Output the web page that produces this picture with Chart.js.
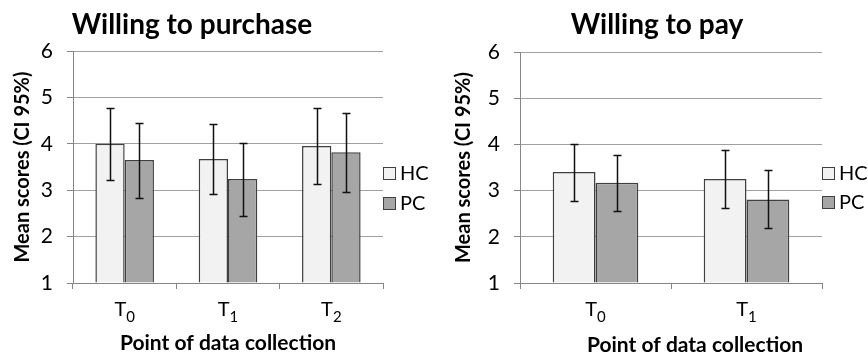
<!DOCTYPE html>
<html>
<head>
<meta charset="utf-8">
<script src="https://cdn.jsdelivr.net/npm/chart.js@4"></script>
<style>
  html, body { margin: 0; padding: 0; background: #fff; }
  .wrap { display: flex; width: 868px; height: 356px; }
  .box { position: relative; width: 434px; height: 356px; }
</style>
</head>
<body>
<div class="wrap">
  <div class="box"><canvas id="purchaseChart"></canvas></div>
  <div class="box"><canvas id="payChart"></canvas></div>
</div>
<script>
// series names
const seriesNames = ['HC', 'PC'];

// willing to purchase
const purchaseLabels = ['T0', 'T1', 'T2'];
const purchaseHC = [4.00, 3.67, 3.95];
const purchaseHCLow = [3.22, 2.91, 3.13];
const purchaseHCHigh = [4.78, 4.43, 4.77];
const purchasePC = [3.65, 3.24, 3.82];
const purchasePCLow = [2.84, 2.45, 2.97];
const purchasePCHigh = [4.45, 4.02, 4.66];

// willing to pay
const payLabels = ['T0', 'T1'];
const payHC = [3.40, 3.25];
const payHCLow = [2.78, 2.63];
const payHCHigh = [4.00, 3.88];
const payPC = [3.17, 2.81];
const payPCLow = [2.56, 2.18];
const payPCHigh = [3.78, 3.44];

const FONT = 'Lato, Carlito, Calibri, sans-serif';
const hcColor = '#f2f2f2';
const pcColor = '#a6a6a6';
const edgeColor = '#404040';

// error bars from the low/high arrays of each dataset
const errorBars = {
  id: 'errorBars',
  afterDatasetsDraw(chart) {
    const ctx = chart.ctx;
    const y = chart.scales.y;
    ctx.save();
    ctx.strokeStyle = '#111';
    ctx.lineWidth = 1.5;
    chart.data.datasets.forEach(function (ds, di) {
      const meta = chart.getDatasetMeta(di);
      meta.data.forEach(function (bar, i) {
        const top = Math.round(y.getPixelForValue(ds.errHigh[i])) + 0.5;
        const bot = Math.round(y.getPixelForValue(ds.errLow[i])) + 0.5;
        const x = Math.round(bar.x) + 0.5;
        ctx.beginPath();
        ctx.moveTo(x, top); ctx.lineTo(x, bot);
        ctx.moveTo(x - 4, top); ctx.lineTo(x + 4, top);
        ctx.moveTo(x - 4, bot); ctx.lineTo(x + 4, bot);
        ctx.stroke();
      });
    });
    ctx.restore();
  }
};

// chart title, x title, subscript tick labels and legend
const decor = {
  id: 'decor',
  afterDraw(chart, args, opts) {
    const ctx = chart.ctx;
    const area = chart.chartArea;
    const xs = chart.scales.x;
    ctx.save();
    ctx.fillStyle = '#000';
    ctx.textBaseline = 'alphabetic';
    ctx.textAlign = 'center';

    ctx.font = 'bold 28px ' + FONT;
    ctx.fillText(opts.title, opts.titleX, opts.titleY);

    ctx.font = 'bold 21px ' + FONT;
    ctx.fillText(opts.xTitle, opts.xTitleX, opts.xTitleY);

    // T with subscript
    chart.data.labels.forEach(function (lab, i) {
      const cx = xs.getPixelForValue(i);
      const main = lab.charAt(0);
      const sub = lab.slice(1);
      ctx.font = '20px ' + FONT;
      const w1 = ctx.measureText(main).width;
      ctx.font = '15px ' + FONT;
      const w2 = ctx.measureText(sub).width;
      const left = cx - (w1 + w2) / 2;
      ctx.textAlign = 'left';
      ctx.font = '20px ' + FONT;
      ctx.fillText(main, left, opts.tickY);
      ctx.font = '15px ' + FONT;
      ctx.fillText(sub, left + w1, opts.tickY + 6);
    });

    // legend
    ctx.textAlign = 'left';
    ctx.textBaseline = 'middle';
    ctx.font = '20px ' + FONT;
    chart.data.datasets.forEach(function (ds, i) {
      const bx = area.right + opts.legendDx;
      const by = opts.legendTop + i * opts.legendGap;
      ctx.fillStyle = ds.backgroundColor;
      ctx.fillRect(bx, by, 12, 12);
      ctx.strokeStyle = edgeColor;
      ctx.lineWidth = 1;
      ctx.strokeRect(bx + 0.5, by + 0.5, 12, 12);
      ctx.fillStyle = '#000';
      ctx.fillText(ds.label, bx + 17, by + 7);
    });
    ctx.restore();
  }
};

function makeChart(id, labels, hc, hcLow, hcHigh, pc, pcLow, pcHigh, cfg) {
  return new Chart(document.getElementById(id), {
    type: 'bar',
    data: {
      labels: labels,
      datasets: [
        {
          label: seriesNames[0], data: hc, errLow: hcLow, errHigh: hcHigh,
          backgroundColor: hcColor, borderColor: edgeColor, borderWidth: 1.5, base: 1
        },
        {
          label: seriesNames[1], data: pc, errLow: pcLow, errHigh: pcHigh,
          backgroundColor: pcColor, borderColor: edgeColor, borderWidth: 1.5, base: 1
        }
      ]
    },
    options: {
      responsive: false,
      animation: false,
      devicePixelRatio: 1,
      layout: { padding: { top: cfg.top, right: cfg.right, left: 0, bottom: 0 } },
      datasets: { bar: { barPercentage: 1, categoryPercentage: 0.567 } },
      scales: {
        x: {
          afterFit: function (scale) { scale.height = cfg.xHeight; },
          ticks: { display: false },
          grid: { display: true, drawOnChartArea: false, offset: true, tickLength: 6, color: '#868686' },
          border: { color: '#868686', width: 1 }
        },
        y: {
          min: 1, max: 6,
          afterFit: function (scale) { scale.width = cfg.yWidth; },
          ticks: { stepSize: 1, color: '#000', padding: 14, font: { family: FONT, size: 21 } },
          grid: { color: '#a0a0a0', tickLength: 6, tickColor: '#868686' },
          border: { color: '#868686', width: 1 },
          title: {
            display: true, text: 'Mean scores (CI 95%)', color: '#000',
            font: { family: FONT, size: 20, weight: 'bold' },
            padding: { top: cfg.yTitlePad, bottom: 0 }
          }
        }
      },
      plugins: {
        legend: { display: false },
        tooltip: { enabled: false },
        decor: cfg.decor
      }
    },
    plugins: [errorBars, decor]
  });
}

document.getElementById('purchaseChart').width = 434;
document.getElementById('purchaseChart').height = 356;
document.getElementById('payChart').width = 434;
document.getElementById('payChart').height = 356;

makeChart('purchaseChart', purchaseLabels, purchaseHC, purchaseHCLow, purchaseHCHigh,
  purchasePC, purchasePCLow, purchasePCHigh, {
    top: 51, right: 51, xHeight: 73, yWidth: 73, yTitlePad: 11,
    decor: {
      title: 'Willing to purchase', titleX: 192, titleY: 34,
      xTitle: 'Point of data collection', xTitleX: 228, xTitleY: 350,
      tickY: 316, legendDx: 0, legendTop: 167, legendGap: 30
    }
  });

makeChart('payChart', payLabels, payHC, payHCLow, payHCHigh,
  payPC, payPCLow, payPCHigh, {
    top: 52, right: 46, xHeight: 73, yWidth: 86, yTitlePad: 18,
    decor: {
      title: 'Willing to pay', titleX: 223, titleY: 34,
      xTitle: 'Point of data collection', xTitleX: 261, xTitleY: 352,
      tickY: 316, legendDx: 0, legendTop: 167, legendGap: 29
    }
  });
</script>
</body>
</html>
